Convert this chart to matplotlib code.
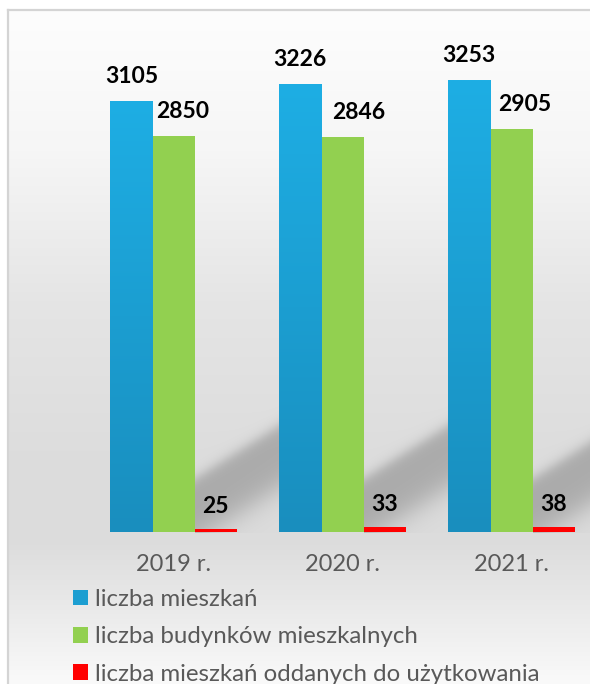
import numpy as np
import matplotlib
matplotlib.use("Agg")
import matplotlib.pyplot as plt
from matplotlib.patches import Patch

plt.rcParams['font.family'] = ['Lato', 'DejaVu Sans']

# ---- data ----
categories = ["2019 r.", "2020 r.", "2021 r."]
series_names = ["liczba mieszkań", "liczba budynków mieszkalnych",
                "liczba mieszkań oddanych do użytkowania"]
mieszkania = [3105, 3226, 3253]
budynki = [2850, 2846, 2905]
oddane = [25, 33, 38]

# ---- style ----
W, H = 590, 684
DPI = 100
BLUE_TOP = np.array([30, 174, 228]) / 255
BLUE_BOT = np.array([25, 142, 190]) / 255
GREEN = "#92d050"
RED = "#ff0000"
TXT = "#595959"
BAR_W = 0.25
# per-label horizontal pixel offsets (label placement of the original)
green_dx = [9, 16, 13]

fig = plt.figure(figsize=(W / DPI, H / DPI), dpi=DPI)

# background axes (pixel coordinates, y down)
bg = fig.add_axes([0, 0, 1, 1], zorder=0)
bg.set_xlim(0, W)
bg.set_ylim(H, 0)
bg.axis("off")

# main axes
base_px, top_px = 532, 40
left_px, right_px = 8, 590
ax = fig.add_axes([left_px / W, (H - base_px) / H,
                   (right_px - left_px) / W, (base_px - top_px) / H], zorder=1)
ax.patch.set_alpha(0)
scale = 0.13888  # px per unit
ax.set_ylim(0, (base_px - top_px) / scale)
spacing = 168.9
c0 = 173.6
ax.set_xlim(-(c0 - left_px) / spacing, (right_px - c0) / spacing)
for s in ax.spines.values():
    s.set_visible(False)
ax.set_yticks([])

x = np.arange(len(categories))
b_blue = ax.bar(x - BAR_W, mieszkania, BAR_W, color="none", edgecolor="none", zorder=2)
b_green = ax.bar(x, budynki, BAR_W, color=GREEN, edgecolor="none", zorder=2)
b_red = ax.bar(x + BAR_W, oddane, BAR_W, color=RED, edgecolor="none", zorder=2)

# gradient fill for blue bars
grad = np.linspace(0, 1, 256)[:, None, None]
grad_img = BLUE_TOP[None, None, :] * (1 - grad) + BLUE_BOT[None, None, :] * grad
for rect in b_blue:
    x0, w, h = rect.get_x(), rect.get_width(), rect.get_height()
    im = ax.imshow(grad_img, extent=(x0, x0 + w, 0, h), aspect="auto",
                   origin="upper", zorder=2, interpolation="bilinear")
    im.set_clip_path(rect)

ax.set_xlim(-(c0 - left_px) / spacing, (right_px - c0) / spacing)
ax.set_ylim(0, (base_px - top_px) / scale)

ax.set_xticks(x)
ax.set_xticklabels(categories, fontsize=17, color=TXT)
ax.tick_params(axis="x", length=0, pad=16)

# value labels
lab_kw = dict(textcoords="offset pixels", ha="center", va="baseline",
              fontsize=16.5, fontweight="bold", color="black", zorder=3)
for i in range(len(categories)):
    ax.annotate(str(mieszkania[i]), (x[i] - BAR_W, mieszkania[i]), xytext=(0, 18), **lab_kw)
    ax.annotate(str(budynki[i]), (x[i], budynki[i]), xytext=(green_dx[i], 18), **lab_kw)
    ax.annotate(str(oddane[i]), (x[i] + BAR_W, oddane[i]), xytext=(0, 16), **lab_kw)

# ---- background image: gradient + diagonal shadows ----
yy, xx = np.mgrid[0:H, 0:W].astype(float)
stops_y = [10, 150, 300, 450, 540, 600, 684]
stops_v = [253, 246, 229, 221, 220, 232, 250]
val = np.interp(yy, stops_y, stops_v)


def sig(z):
    return 1.0 / (1.0 + np.exp(-z))


tr = ax.transData
for i in range(len(categories)):
    gx = tr.transform((b_green[i].get_x() + BAR_W, 0))
    xs = gx[0]
    ybase = H - gx[1]
    if i + 1 < len(categories):
        xe = tr.transform((b_blue[i + 1].get_x(), 0))[0]
    else:
        xe = W
    slope = -0.63
    y_up = (ybase - 54) + slope * (xx - xs)
    y_lo = y_up + 62
    prof = sig((yy - y_up) / 4.0) * sig((y_lo - yy) / 9.0)
    mask = (xx >= xs) & (xx <= xe) & (yy <= ybase)
    val = val - 50 * prof * mask

inside = (xx >= 8) & (yy >= 10)
val = np.where(inside, val, 255)
img = np.repeat((val / 255)[:, :, None], 3, axis=2)
bg.imshow(img, extent=(0, W, H, 0), aspect="auto", interpolation="bilinear")
bg.plot([8, 8], [H, 9.5], color="#d4d4d4", lw=1.6)
bg.plot([8, W], [10, 10], color="#d4d4d4", lw=1.6)
bg.set_xlim(0, W)
bg.set_ylim(H, 0)

# ---- legend ----
blue_mid = tuple((BLUE_TOP + BLUE_BOT) / 2)
handles = [Patch(facecolor=blue_mid, edgecolor="none"),
           Patch(facecolor=GREEN, edgecolor="none"),
           Patch(facecolor=RED, edgecolor="none")]
leg = fig.legend(handles, series_names, loc="upper left",
                 bbox_to_anchor=(73 / W, (H - 589) / H), frameon=False,
                 fontsize=17.3, handlelength=0.62, handleheight=0.62,
                 handletextpad=0.3, labelspacing=0.68, borderpad=0,
                 borderaxespad=0, labelcolor=TXT)

fig.savefig("out.png", dpi=DPI)
